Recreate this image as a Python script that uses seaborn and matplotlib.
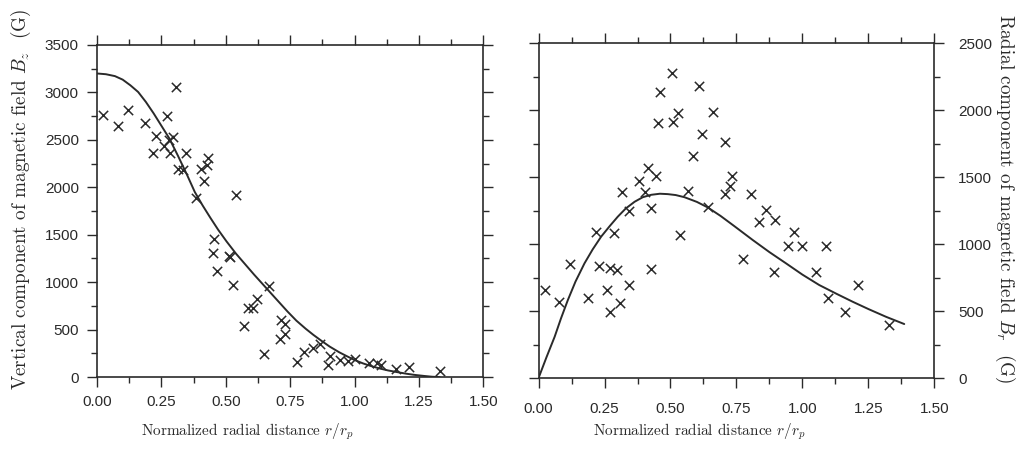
import matplotlib
matplotlib.use("Agg")
import matplotlib.pyplot as plt
from matplotlib.ticker import MultipleLocator, FormatStrFormatter
import seaborn as sns

# vertical component B_z, measured points
r_z = [0.023, 0.080, 0.120, 0.187, 0.219, 0.230, 0.271, 0.261, 0.278, 0.284, 0.297,
       0.306, 0.314, 0.333, 0.345, 0.383, 0.403, 0.417, 0.429, 0.432, 0.456, 0.449,
       0.467, 0.511, 0.516, 0.529, 0.538, 0.571, 0.587, 0.604, 0.622, 0.648, 0.669,
       0.713, 0.710, 0.731, 0.731, 0.777, 0.804, 0.839, 0.865, 0.897, 0.904, 0.945,
       0.975, 1.000, 1.056, 1.088, 1.101, 1.162, 1.211, 1.333]
bz = [2761, 2649, 2814, 2673, 2364, 2543, 2751, 2434, 2497, 2364, 2533,
      3053, 2198, 2181, 2367, 1892, 2198, 2068, 2234, 2304, 1460, 1312,
      1115, 1273, 1266, 967, 1917, 538, 728, 728, 820, 246, 957,
      605, 397, 563, 457, 158, 264, 310, 352, 130, 222, 176,
      169, 193, 148, 151, 123, 88, 106, 60]

# radial component B_r, measured points
r_r = [0.024, 0.078, 0.120, 0.188, 0.219, 0.230, 0.272, 0.259, 0.272, 0.286, 0.297,
       0.308, 0.316, 0.341, 0.344, 0.379, 0.402, 0.414, 0.426, 0.427, 0.445, 0.452,
       0.461, 0.505, 0.508, 0.527, 0.537, 0.566, 0.584, 0.607, 0.618, 0.643, 0.663,
       0.705, 0.708, 0.727, 0.732, 0.773, 0.804, 0.834, 0.862, 0.893, 0.898, 0.944,
       0.967, 0.998, 1.051, 1.089, 1.096, 1.161, 1.209, 1.327]
br = [659, 565, 851, 597, 1090, 833, 818, 659, 490, 1082, 803,
      560, 1386, 1249, 697, 1468, 1386, 1567, 1269, 816, 1505, 1903,
      2132, 2276, 1908, 1978, 1065, 1398, 1654, 2184, 1823, 1276, 1983,
      1759, 1376, 1435, 1505, 891, 1376, 1162, 1256, 791, 1182, 988,
      1090, 983, 791, 988, 597, 493, 692, 398]

# model curves
fit_r_z = [0.0, 0.035, 0.07, 0.10, 0.13, 0.16, 0.19, 0.22, 0.25, 0.28, 0.315, 0.35,
           0.38, 0.41, 0.44, 0.47, 0.503, 0.54, 0.575, 0.61, 0.645, 0.68, 0.71, 0.74,
           0.774, 0.81, 0.84, 0.87, 0.903, 0.94, 0.97, 1.0, 1.032, 1.065, 1.10, 1.13,
           1.162, 1.20, 1.23, 1.27, 1.30, 1.33]
fit_bz = [3200, 3192, 3172, 3135, 3075, 3005, 2900, 2780, 2650, 2520, 2330, 2130,
          1950, 1810, 1680, 1555, 1430, 1300, 1190, 1080, 975, 870, 780, 690,
          595, 510, 445, 385, 322, 262, 220, 180, 145, 115, 89, 70,
          54, 36, 24, 12, 4, 0]

fit_r_r = [0.0, 0.03, 0.061, 0.085, 0.111, 0.14, 0.174, 0.205, 0.237, 0.27, 0.300,
           0.33, 0.364, 0.395, 0.427, 0.46, 0.490, 0.52, 0.553, 0.60, 0.641, 0.69,
           0.742, 0.812, 0.875, 0.938, 1.0, 1.064, 1.13, 1.191, 1.25, 1.317, 1.386]
fit_br = [0, 155, 308, 445, 582, 720, 856, 960, 1055, 1135, 1204,
          1265, 1316, 1350, 1368, 1376, 1373, 1366, 1350, 1315, 1274, 1210,
          1134, 1030, 940, 856, 772, 694, 628, 569, 515, 457, 403]

xlabel = "Normalized radial distance $r/r_p$"
ylabel_z = "Vertical component of magnetic field $B_z$  (G)"
ylabel_r = "Radial component of magnetic field $B_r$  (G)"

sns.set_style("ticks")
plt.rcParams["font.family"] = ["Liberation Sans", "DejaVu Sans"]
plt.rcParams["mathtext.fontset"] = "cm"

ink = "#2a2a2a"
fig = plt.figure(figsize=(10.2, 4.5), dpi=100)
ax1 = fig.add_axes([0.095, 0.162, 0.379, 0.738])
ax2 = fig.add_axes([0.528, 0.160, 0.388, 0.744])

for ax, rx, ry, fx, fy in [(ax1, r_z, bz, fit_r_z, fit_bz), (ax2, r_r, br, fit_r_r, fit_br)]:
    sns.lineplot(x=fx, y=fy, ax=ax, color=ink, linewidth=1.4, sort=False)
    sns.scatterplot(x=rx, y=ry, ax=ax, marker="x", color=ink, s=45, linewidth=1.1)
    ax.set_xlim(0, 1.5)
    ax.xaxis.set_major_locator(MultipleLocator(0.25))
    ax.xaxis.set_minor_locator(MultipleLocator(0.125))
    ax.yaxis.set_minor_locator(MultipleLocator(250))
    ax.xaxis.set_major_formatter(FormatStrFormatter("%.2f"))
    ax.tick_params(which="both", direction="out", top=True, right=True, left=True,
                   bottom=True, colors=ink, labelsize=11, width=1.0)
    ax.tick_params(which="major", length=7, pad=6)
    ax.tick_params(which="minor", length=4.5)
    for sp in ax.spines.values():
        sp.set_color(ink)
        sp.set_linewidth(1.2)
    ax.set_xlabel(xlabel, fontfamily="cmr10", fontsize=11, color=ink, va="center")

ax1.set_ylim(0, 3500)
ax1.yaxis.set_major_locator(MultipleLocator(500))
ax1.set_ylabel(ylabel_z, fontfamily="cmr10", fontsize=13.8, color=ink,
               va="center", ha="center")
ax1.yaxis.set_label_coords(-0.197, 0.536)
ax1.xaxis.set_label_coords(0.388, -0.166)

ax2.set_ylim(0, 2500)
ax2.yaxis.set_major_locator(MultipleLocator(500))
ax2.yaxis.tick_right()
ax2.tick_params(which="both", left=True, right=True, labelleft=False, labelright=True)
ax2.tick_params(which="major", pad=10)
ax2.yaxis.set_label_position("right")
ax2.set_ylabel(ylabel_r, fontfamily="cmr10", fontsize=13.8, color=ink,
               rotation=-90, va="center", ha="center")
ax2.yaxis.set_label_coords(1.18, 0.537)
ax2.xaxis.set_label_coords(0.407, -0.161)

fig.savefig("out.png", dpi=100, facecolor="white")
